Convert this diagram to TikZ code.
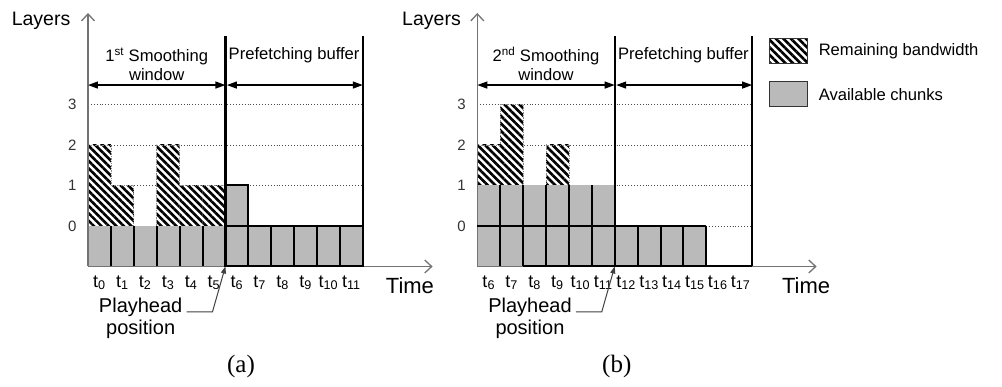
\documentclass[tikz,border=0pt]{standalone}
\usepackage{fontspec}
\setmainfont{Liberation Sans}
\newfontfamily\capfont{Liberation Serif}
\usetikzlibrary{arrows.meta,patterns.meta,positioning}
\tikzstyle{chunk}=[fill=black!27]
\tikzstyle{spare}=[preaction={fill=white},pattern={Lines[angle=-45,distance=5.3pt,line width=2.6pt]}]
\tikzstyle{rim}=[draw=black!45,densely dotted,line width=0.7pt]
\tikzstyle{cell}=[draw,line width=2pt]
\tikzstyle{axis}=[draw,black!55,line width=1.3pt,-{Straight Barb[length=7pt,width=13pt]}]
\tikzstyle{level}=[draw,black!70,dotted,line width=0.9pt]
\tikzstyle{span}=[draw,line width=1.3pt,{Triangle[length=10pt,width=7pt]}-{Triangle[length=10pt,width=7pt]}]
\tikzstyle{bound}=[draw,line width=2.2pt]
\tikzstyle{pointer}=[draw,black!75,line width=1pt,-{Triangle[length=7pt,width=5pt]}]
\tikzstyle{hdr}=[font=\fontsize{16.6}{19}\selectfont,inner sep=0pt]
\tikzstyle{tick}=[font=\fontsize{18}{20}\selectfont,inner sep=0pt,anchor=base]
\tikzstyle{lvl}=[font=\fontsize{15}{17}\selectfont,text=black!80,anchor=east,inner sep=0pt]
\tikzstyle{axlabel}=[font=\fontsize{19.5}{21}\selectfont,inner sep=0pt,anchor=base]
\tikzstyle{timelabel}=[font=\fontsize{22}{24}\selectfont,inner sep=0pt,anchor=base west]
\tikzstyle{note}=[font=\fontsize{20}{22}\selectfont,align=center,inner sep=0pt]
\tikzstyle{caption}=[font=\capfont\fontsize{25}{27}\selectfont,inner sep=0pt]
\tikzstyle{legendbox}=[draw=black!80,line width=1pt,minimum width=38pt,minimum height=25pt,inner sep=0pt]

\begin{document}
\begin{tikzpicture}[x=22.9pt,y=40.5pt]
    \useasboundingbox (-88pt,-161pt) rectangle (914pt,226pt);

    % (a) first smoothing window
    \def\dx{0}

    \foreach \y in {0,...,3}
        \draw[level] (\dx,\y) -- (\dx+12,\y);

    \foreach \x/\top in {0/2, 1/1, 3/2, 4/1, 5/1}
        \path[spare] (\x+\dx,0) rectangle (\x+\dx+1,\top);
    \draw[rim] (\dx,2) -- (\dx+1,2) -- (\dx+1,1) -- (\dx+2,1) -- (\dx+2,0);
    \draw[rim] (\dx+3,0) -- (\dx+3,2) -- (\dx+4,2) -- (\dx+4,1) -- (\dx+6,1);

    \foreach \x in {0,...,11}
        \path[chunk] (\x+\dx,-1) rectangle (\x+\dx+1,0);
    \path[chunk] (\dx+6,0) rectangle (\dx+7,1);

    \coordinate (oa) at (\dx,-1);
    \coordinate (ya) at (\dx,5.26);
    \coordinate (xa) at (\dx+15.05,-1);
    \draw[axis] (oa) -- (ya);
    \draw[axis] (oa) -- (xa);

    \foreach \x in {1,...,5}
        \draw[cell] (\x+\dx,-1) -- (\x+\dx,0);
    \foreach \x in {6,...,11}
        \draw[cell] (\x+\dx,-1) rectangle (\x+\dx+1,0);
    \draw[cell] (\dx+6,0) rectangle (\dx+7,1);

    \coordinate (pa) at (\dx+6,-1);
    \coordinate (pta) at (\dx+6,4.7);
    \coordinate (ea) at (\dx+12,-1);
    \coordinate (eta) at (\dx+12,4.7);
    \draw[bound] (pa) -- (pta);
    \draw[bound] (ea) -- (eta);

    \coordinate (s0a) at (\dx,3.48);
    \coordinate (s1a) at (\dx+6,3.48);
    \coordinate (s2a) at (\dx+12,3.48);
    \draw[span] (s0a) -- (s1a);
    \draw[span, shorten <=1.5pt] (s1a) -- (s2a);

    \foreach \y in {0,...,3}
        \node[lvl] (la\y) at (\dx-0.5,\y) {\y};
    \foreach \i in {0,...,11}
        \node[tick] (ta\i) at (\i+\dx+0.5,-1.51) {t\textsubscript{\i}};

    \node[axlabel] (layersa) at (\dx-2.05,4.94) {Layers};
    \node[timelabel] (timea) at (\dx+13.0,-1.66) {Time};
    \node[hdr, align=center] (swa) at (\dx+3,4.0) {1\textsuperscript{st} Smoothing\\window};
    \node[hdr, anchor=base] (pba) at (\dx+9,4.1) {Prefetching buffer};

    \node[note] (pha) at (\dx+2.3,-2.27) {Playhead\\position};
    \draw[pointer] ([xshift=4pt,yshift=6pt]pha.east) -- ++(1.13,0) -- (pa);

    \node[caption] (capa) at (\dx+6.68,-3.46) {(a)};

    % (b) second smoothing window
    \def\dx{17}

    \foreach \y in {0,...,3}
        \draw[level] (\dx,\y) -- (\dx+12,\y);

    \foreach \x/\top in {0/2, 1/3, 3/2}
        \path[spare] (\x+\dx,1) rectangle (\x+\dx+1,\top);
    \draw[rim] (\dx,2) -- (\dx+1,2) -- (\dx+1,3) -- (\dx+2,3) -- (\dx+2,1);
    \draw[rim] (\dx+3,1) -- (\dx+3,2) -- (\dx+4,2) -- (\dx+4,1);

    \foreach \x in {0,...,9}
        \path[chunk] (\x+\dx,-1) rectangle (\x+\dx+1,0);
    \foreach \x in {0,...,5}
        \path[chunk] (\x+\dx,0) rectangle (\x+\dx+1,1);

    \coordinate (ob) at (\dx,-1);
    \coordinate (yb) at (\dx,5.26);
    \coordinate (xb) at (\dx+14.82,-1);
    \draw[axis] (ob) -- (yb);
    \draw[axis] (ob) -- (xb);

    \draw[cell] (\dx,0) -- (\dx+10,0);
    \draw[cell] (\dx+2,-1) -- (\dx+12,-1);
    \foreach \x in {1,...,10}
        \draw[cell] (\x+\dx,-1) -- (\x+\dx,0);
    \foreach \x in {1,...,5}
        \draw[cell] (\x+\dx,0) -- (\x+\dx,1);

    \coordinate (pb) at (\dx+6,-1);
    \coordinate (ptb) at (\dx+6,4.7);
    \coordinate (eb) at (\dx+12,-1);
    \coordinate (etb) at (\dx+12,4.7);
    \draw[bound] (pb) -- (ptb);
    \draw[bound] (eb) -- (etb);

    \coordinate (s0b) at (\dx,3.48);
    \coordinate (s1b) at (\dx+6,3.48);
    \coordinate (s2b) at (\dx+12,3.48);
    \draw[span] (s0b) -- (s1b);
    \draw[span, shorten <=1.5pt] (s1b) -- (s2b);

    \foreach \y in {0,...,3}
        \node[lvl] (lb\y) at (\dx-0.5,\y) {\y};
    \foreach \i [evaluate=\i as \n using int(\i+6)] in {0,...,11}
        \node[tick] (tb\i) at (\i+\dx+0.5,-1.51) {t\textsubscript{\n}};

    \node[axlabel] (layersb) at (\dx-2.0,4.94) {Layers};
    \node[timelabel] (timeb) at (\dx+13.3,-1.66) {Time};
    \node[hdr, align=center] (swb) at (\dx+3,4.0) {2\textsuperscript{nd} Smoothing\\window};
    \node[hdr, anchor=base] (pbb) at (\dx+9,4.1) {Prefetching buffer};

    \node[note] (phb) at (\dx+2.3,-2.27) {Playhead\\position};
    \draw[pointer] ([xshift=4pt,yshift=6pt]phb.east) -- ++(1.13,0) -- (pb);

    \node[caption] (capb) at (\dx+6.09,-3.46) {(b)};

    % legend
    \node[legendbox, spare] (rbw) at (\dx+13.57,4.31) {};
    \node[hdr, right=11pt of rbw] (rbwt) {Remaining bandwidth};
    \node[legendbox, chunk] (avc) at (\dx+13.57,3.25) {};
    \node[hdr, right=11pt of avc] (avct) {Available chunks};

\end{tikzpicture}
\end{document}
